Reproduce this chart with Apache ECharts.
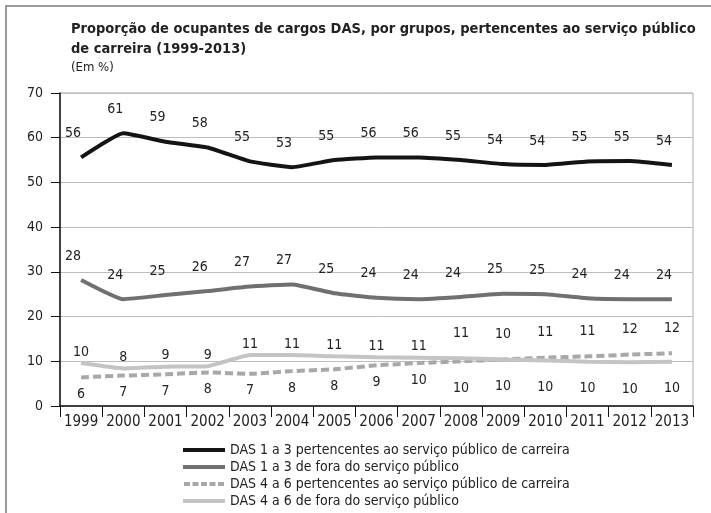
<!DOCTYPE html>
<html>
<head>
    <meta charset="UTF-8">
    <title>DAS</title>
    <script src="https://cdn.jsdelivr.net/npm/echarts@6/dist/echarts.min.js"></script>
    <style>
        body { margin: 0; background: #fff; }
        #main { width: 711px; height: 513px; }
    </style>
</head>
<body>
<div id="main"></div>
<script>
    var years = ['1999', '2000', '2001', '2002', '2003', '2004', '2005', '2006', '2007', '2008', '2009', '2010', '2011', '2012', '2013'];
    var das13Carreira = [55.6, 61.0, 59.1, 57.8, 54.7, 53.4, 55.0, 55.6, 55.6, 55.0, 54.1, 53.9, 54.7, 54.8, 53.9];
    var das13Fora = [28.2, 23.9, 24.8, 25.7, 26.7, 27.2, 25.2, 24.2, 23.9, 24.4, 25.1, 25.0, 24.1, 23.9, 23.9];
    var das46Carreira = [6.4, 6.8, 7.1, 7.5, 7.2, 7.8, 8.2, 9.1, 9.6, 10.0, 10.4, 10.8, 11.1, 11.5, 11.8];
    var das46Fora = [9.6, 8.4, 8.8, 8.9, 11.4, 11.4, 11.1, 10.9, 10.8, 10.7, 10.4, 10.2, 9.9, 9.8, 9.9];
    var names = [
        'DAS 1 a 3 pertencentes ao serviço público de carreira',
        'DAS 1 a 3 de fora do serviço público',
        'DAS 4 a 6 pertencentes ao serviço público de carreira',
        'DAS 4 a 6 de fora do serviço público'
    ];
    var colors = ['#141414', '#707070', '#a8a8a8', '#c4c4c4'];

    var font = '"DejaVu Sans Condensed", "Liberation Sans Narrow", sans-serif';
    var txt = '#222';

    // os dois grupos de baixo se cruzam: rótulo em cima para a linha mais alta
    function pairData(own, other) {
        return own.map(function (v, i) {
            var up = v > other[i] || (v === other[i] && own === das46Carreira);
            var far = +years[i] >= 2008;
            return {
                value: v,
                label: {
                    position: up ? 'top' : 'bottom',
                    distance: up ? (far ? 18 : 4) : (far ? 20 : 10)
                }
            };
        });
    }

    function fmt(p) { return Math.round(p.value); }

    var dashIcon = 'path://M0,0h6v4h-6z M8.5,0h6v4h-6z M17,0h6v4h-6z M25.5,0h6v4h-6z M34,0h6v4h-6z';

    function lineSeries(i, data, dash, shift) {
        return {
            name: names[i],
            type: 'line',
            data: data,
            smooth: 0.12,
            symbol: 'circle',
            symbolSize: 0,
            showSymbol: true,
            lineStyle: { color: colors[i], width: 4, type: dash ? [8, 4] : 'solid' },
            itemStyle: { color: colors[i] },
            label: {
                show: true, position: 'top', distance: 17, offset: [shift, 0],
                color: txt, fontSize: 14, fontFamily: font, formatter: fmt
            }
        };
    }

    var myChart = echarts.init(document.getElementById('main'));
    var option = {
        backgroundColor: '#fff',
        animation: false,
        textStyle: { fontFamily: font },
        title: {
            left: 71,
            top: 19,
            itemGap: 0,
            padding: 0,
            text: 'Proporção de ocupantes de cargos DAS, por grupos, pertencentes ao serviço público\nde carreira (1999-2013)',
            subtext: '(Em %)',
            textStyle: { fontFamily: font, fontSize: 14.5, fontWeight: 'bold', color: txt, lineHeight: 20 },
            subtextStyle: { fontFamily: font, fontSize: 13, color: txt, lineHeight: 18 }
        },
        legend: {
            orient: 'vertical',
            left: 183,
            top: 443,
            padding: 0,
            itemWidth: 42,
            itemHeight: 4,
            itemGap: 3,
            textStyle: { fontFamily: font, fontSize: 14, color: txt },
            data: [
                { name: names[0], icon: 'rect' },
                { name: names[1], icon: 'rect' },
                { name: names[2], icon: dashIcon },
                { name: names[3], icon: 'rect' }
            ]
        },
        grid: {
            left: 60,
            right: 18,
            top: 93,
            bottom: 107,
            show: true,
            borderColor: '#aaa',
            borderWidth: 1
        },
        xAxis: {
            type: 'category',
            data: years,
            boundaryGap: true,
            axisLine: { lineStyle: { color: '#111', width: 1.5 } },
            axisTick: { show: true, length: 11, interval: 0, lineStyle: { color: '#111' } },
            axisLabel: { color: txt, fontSize: 15, margin: 9, interval: 0, fontFamily: font }
        },
        yAxis: {
            type: 'value',
            min: 0,
            max: 70,
            interval: 10,
            axisLine: { show: true, lineStyle: { color: '#111', width: 1.5 } },
            axisTick: { show: true, length: 9, lineStyle: { color: '#111' } },
            axisLabel: { color: txt, fontSize: 14, margin: 17, fontFamily: font },
            splitLine: { lineStyle: { color: '#bdbdbd' } }
        },
        graphic: [{
            type: 'polyline',
            shape: { points: [[6, 513], [6, 6], [711, 6]] },
            style: { stroke: '#9a9a9a', lineWidth: 2, fill: null }
        }],
        series: [
            lineSeries(0, das13Carreira, false, -8),
            lineSeries(1, das13Fora, false, -8),
            lineSeries(2, pairData(das46Carreira, das46Fora), true, 0),
            lineSeries(3, pairData(das46Fora, das46Carreira), false, 0)
        ]
    };
    myChart.setOption(option);
</script>
</body>
</html>
